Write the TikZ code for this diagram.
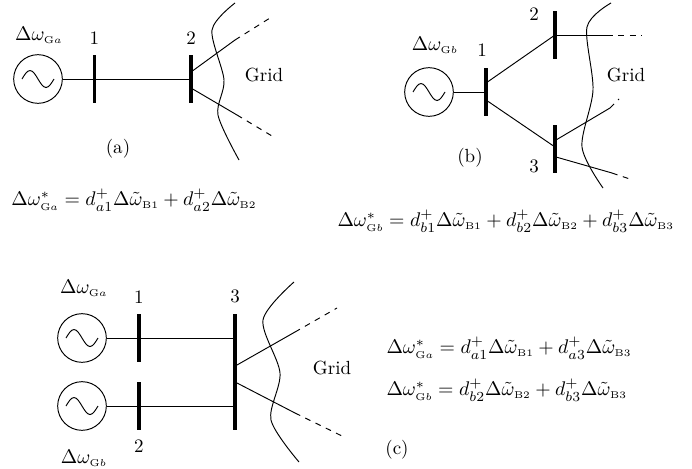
\documentclass[tikz,border=0pt]{standalone}
\usepackage{amsmath}
\usepackage{amssymb}
\usepackage{tikz}
\newcommand{\Gsub}[1]{{\scriptscriptstyle\mathrm{G}#1}}
\newcommand{\Bsub}[1]{{\scriptscriptstyle\mathrm{B}#1}}
\tikzset{
  gen/.style={draw,circle,inner sep=0pt,minimum size=25.6pt},
  bus/.style={fill=black,inner sep=0pt,minimum width=1.6pt,minimum height=25.2pt},
  longbus/.style={bus,minimum height=61pt},
  lbl/.style={inner sep=0pt},
  mathlbl/.style={lbl,scale=1.04},
  eqn/.style={inner sep=0pt,anchor=west,scale=1.04},
}
\begin{document}
\begin{tikzpicture}[x=0.526pt,y=-0.526pt,line width=0.5pt]
  \useasboundingbox (0,0) rectangle (692,468);
  % (a)
  \node[gen] (gena) at (38,79) {};
  \node[bus] (busa1) at (94.5,79) {};
  \node[bus] (busa2) at (191,79) {};
  \draw (gena) -- (busa1) -- (busa2);
  \coordinate (a2u) at (191,72);
  \coordinate (a2d) at (191,88);
  \coordinate (aum) at (235,40);
  \coordinate (aue) at (270,18);
  \coordinate (adm) at (237,115);
  \coordinate (ade) at (272,136);
  \draw (a2u) -- (aum);
  \draw[dashed] (aum) -- (aue);
  \draw (a2d) -- (adm);
  \draw[dashed] (adm) -- (ade);
  \draw plot[smooth] coordinates {(235,3) (212,30) (224,80) (218,115) (239,160)};
  \node[mathlbl] (nga) at (39,35) {$\Delta\omega_{\Gsub{a}}$};
  \node[lbl] (na1) at (94.5,38) {1};
  \node[lbl] (na2) at (191,38) {2};
  \node[lbl] (grida) at (264,75) {Grid};
  \node[lbl] (capa) at (118,149) {(a)};
  \node[eqn] (eqa) at (11,200) {$\Delta\omega^{*}_{\Gsub{a}}=d^{+}_{a1}\Delta\tilde\omega_{\Bsub{1}}+d^{+}_{a2}\Delta\tilde\omega_{\Bsub{2}}$};
  % (b)
  \node[gen] (genb) at (429,92) {};
  \node[bus] (busb1) at (486,92) {};
  \node[bus] (busb2) at (555,35) {};
  \node[bus] (busb3) at (555,149) {};
  \draw (genb) -- (busb1);
  \coordinate (b1u) at (486,83);
  \coordinate (b1d) at (486,100);
  \coordinate (b2l) at (555,35);
  \coordinate (b3l) at (555,147);
  \coordinate (b3u) at (556,140);
  \coordinate (b3d) at (556,157);
  \coordinate (b2m) at (607,35);
  \coordinate (b2e) at (642,35);
  \coordinate (bum) at (610,108);
  \coordinate (bue) at (619,99);
  \coordinate (bdm) at (612,173);
  \coordinate (bde) at (633,180);
  \draw (b1u) -- (b2l);
  \draw (b1d) -- (b3l);
  \draw (b2l) -- (b2m);
  \draw[dashed] (b2m) -- (b2e);
  \draw (b3u) -- (bum);
  \draw[dashed] (bum) -- (bue);
  \draw (b3d) -- (bdm);
  \draw[dashed] (bdm) -- (bde);
  \draw plot[smooth] coordinates {(611,3) (587,27) (593,90) (582,147) (603,188)};
  \node[mathlbl] (ngb) at (435,45) {$\Delta\omega_{\Gsub{b}}$};
  \node[lbl] (nb1) at (482,50) {1};
  \node[lbl] (nb2) at (534,14) {2};
  \node[lbl] (nb3) at (534,166) {3};
  \node[lbl] (gridb) at (626,75) {Grid};
  \node[lbl] (capb) at (470,158) {(b)};
  \node[eqn] (eqb) at (337,221) {$\Delta\omega^{*}_{\Gsub{b}}=d^{+}_{b1}\Delta\tilde\omega_{\Bsub{1}}+d^{+}_{b2}\Delta\tilde\omega_{\Bsub{2}}+d^{+}_{b3}\Delta\tilde\omega_{\Bsub{3}}$};
  % (c)
  \node[gen] (genc) at (82,338) {};
  \node[gen] (gend) at (82,406) {};
  \node[bus] (busc1) at (139,338) {};
  \node[bus] (busc2) at (139,406) {};
  \node[longbus] (busc3) at (235,372) {};
  \draw (genc) -- (busc1) -- (busc1 -| busc3);
  \draw (gend) -- (busc2) -- (busc2 -| busc3);
  \coordinate (c3u) at (237,365);
  \coordinate (c3d) at (237,383);
  \coordinate (cum) at (295,332);
  \coordinate (cue) at (337,308);
  \coordinate (cdm) at (295,413);
  \coordinate (cde) at (342,436);
  \draw (c3u) -- (cum);
  \draw[dashed] (cum) -- (cue);
  \draw (c3d) -- (cdm);
  \draw[dashed] (cdm) -- (cde);
  \draw plot[smooth] coordinates {(294,282) (263,320) (280,373) (271,420) (299,462)};
  \node[mathlbl] (ngc) at (84,288) {$\Delta\omega_{\Gsub{a}}$};
  \node[mathlbl] (ngd) at (84,458) {$\Delta\omega_{\Gsub{b}}$};
  \node[lbl] (nc1) at (139,297) {1};
  \node[lbl] (nc2) at (139,446) {2};
  \node[lbl] (nc3) at (235,296) {3};
  \node[lbl] (gridc) at (332,368) {Grid};
  \node[lbl] (capc) at (397,450) {(c)};
  \node[eqn] (eqc) at (386,348) {$\Delta\omega^{*}_{\Gsub{a}}=d^{+}_{a1}\Delta\tilde\omega_{\Bsub{1}}+d^{+}_{a3}\Delta\tilde\omega_{\Bsub{3}}$};
  \node[eqn] (eqd) at (386,390) {$\Delta\omega^{*}_{\Gsub{b}}=d^{+}_{b2}\Delta\tilde\omega_{\Bsub{2}}+d^{+}_{b3}\Delta\tilde\omega_{\Bsub{3}}$};
  % sine wave inside each generator
  \foreach \g in {gena,genb,genc,gend}
    \draw (\g.center) ++(-16,0) sin ++(8,-8.5) cos ++(8,8.5) sin ++(8,8.5) cos ++(8,-8.5);
\end{tikzpicture}
\end{document}
